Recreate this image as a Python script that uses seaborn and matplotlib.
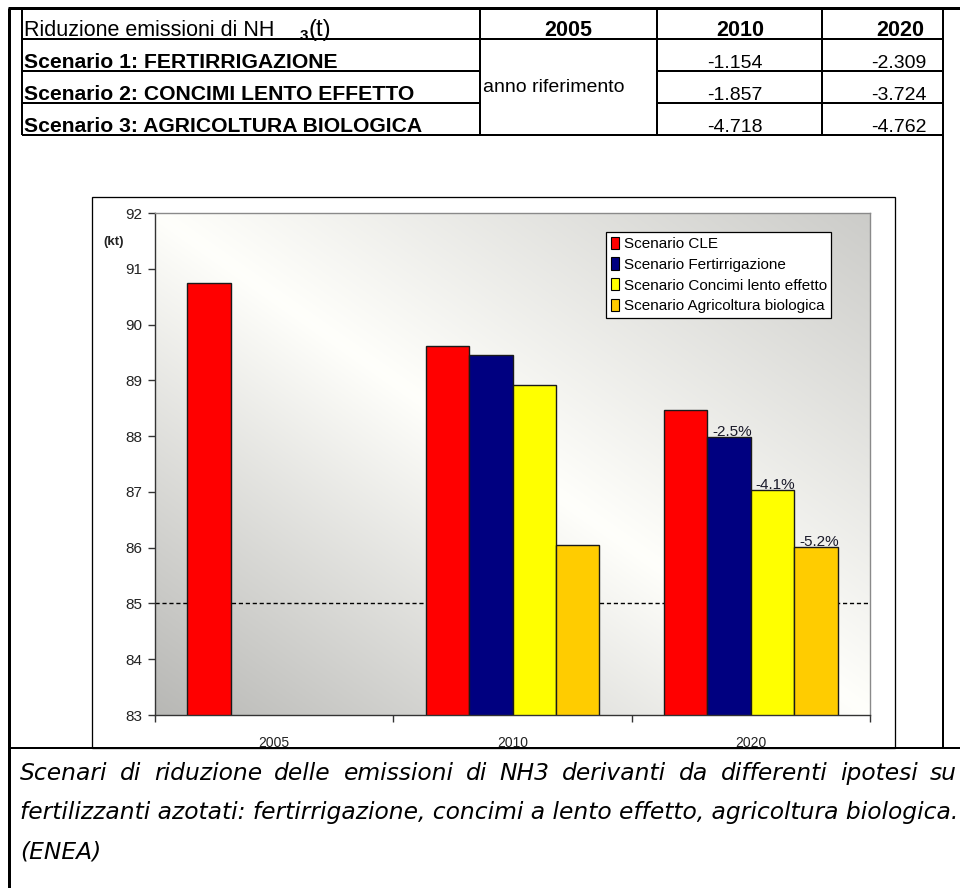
import numpy as np
import pandas as pd
import matplotlib
matplotlib.use("Agg")
import matplotlib.pyplot as plt
import seaborn as sns
from matplotlib.lines import Line2D
from matplotlib.patches import Rectangle, Patch

# ---- data -------------------------------------------------------------
years = ["2005", "2010", "2020"]
scenarios = [
    "Scenario CLE",
    "Scenario Fertirrigazione",
    "Scenario Concimi lento effetto",
    "Scenario Agricoltura biologica",
]
cle = [90.75, 89.61, 88.46]
fertirrigazione = [None, 89.46, 87.99]
concimi_lento = [None, 88.92, 87.03]
agricoltura_bio = [None, 86.05, 86.02]
bar_colors = ["#ff0000", "#000080", "#ffff00", "#ffcc00"]
labels_2020 = ["-2.5%", "-4.1%", "-5.2%"]
threshold = 85

table_title = "Riduzione emissioni di NH"
table_years = ["2005", "2010", "2020"]
table_rows = [
    "Scenario 1: FERTIRRIGAZIONE",
    "Scenario 2: CONCIMI LENTO EFFETTO",
    "Scenario 3: AGRICOLTURA BIOLOGICA",
]
reduction_2010 = ["-1.154", "-1.857", "-4.718"]
reduction_2020 = ["-2.309", "-3.724", "-4.762"]
reference_note = "anno riferimento"
caption_lines = [
    "Scenari di riduzione delle emissioni di NH3 derivanti da differenti ipotesi su",
    "fertilizzanti azotati: fertirrigazione, concimi a lento effetto, agricoltura biologica.",
    "(ENEA)",
]

# ---- long table for seaborn --------------------------------------------
records = []
for name, vals in zip(scenarios, [cle, fertirrigazione, concimi_lento, agricoltura_bio]):
    for yr, v in zip(years, vals):
        if v is not None:
            records.append({"anno": yr, "scenario": name, "kt": v})
df = pd.DataFrame(records)

# ---- figure -------------------------------------------------------------
W, H = 960, 888
fig = plt.figure(figsize=(W / 100, H / 100), dpi=100)
fig.patch.set_facecolor("white")
renderer = fig.canvas.get_renderer()

def fx(x):
    return x / W

def fy(y):
    return 1 - y / H

def pt(px):
    return px * 0.72

def line(x0, y0, x1, y1, px=2.0):
    fig.add_artist(Line2D([fx(x0), fx(x1)], [fy(y0), fy(y1)], color="black",
                          lw=pt(px), transform=fig.transFigure, solid_capstyle="butt"))

# outer cell borders
line(8, 8, 960, 8, 3)
line(9, 8, 9, 888, 3)
line(943, 8, 943, 748, 2)
line(9, 748, 960, 748, 2)
# nested data table
line(22, 8, 22, 135, 2)
line(22, 39, 943, 39, 2)
line(22, 71, 480, 71, 2)
line(657, 71, 943, 71, 2)
line(22, 103, 480, 103, 2)
line(657, 103, 943, 103, 2)
line(22, 135, 943, 135, 2)
for xv in (480, 657, 822):
    line(xv, 8, xv, 135, 2)

tfont = "Liberation Sans"
fig.text(fx(24), fy(36), table_title, fontsize=15.5, family=tfont, va="baseline", ha="left")
fig.text(fx(300), fy(40), "3", fontsize=11, family=tfont, fontweight="bold", va="baseline", ha="left")
fig.text(fx(309), fy(36), "(t)", fontsize=17, family=tfont, va="baseline", ha="left")
col_centers = [568, 740, 900]
for cx, yr in zip(col_centers, table_years):
    fig.text(fx(cx), fy(36), yr, fontsize=15.5, family=tfont, fontweight="bold",
             va="baseline", ha="center")
row_base = [68, 100, 132]
for yb, lbl, v10, v20 in zip(row_base, table_rows, reduction_2010, reduction_2020):
    fig.text(fx(24), fy(yb), lbl, fontsize=15.2, family=tfont, fontweight="bold",
             va="baseline", ha="left")
    fig.text(fx(735), fy(yb), v10, fontsize=14, family=tfont, va="baseline", ha="center")
    fig.text(fx(899), fy(yb), v20, fontsize=14, family=tfont, va="baseline", ha="center")
fig.text(fx(483), fy(88), reference_note, fontsize=14, family=tfont, va="center", ha="left")

# chart frame
fig.add_artist(Rectangle((fx(92), fy(748)), fx(895) - fx(92), fy(197) - fy(748),
                         fill=False, edgecolor="black", lw=pt(1.3),
                         transform=fig.transFigure))

# caption: first line justified across the cell, the rest left-aligned
cap_kw = dict(fontsize=16.8, family="DejaVu Sans", style="italic", va="center", ha="left")
for i, txt in enumerate(caption_lines):
    ycap = fy(773 + 39.5 * i)
    if i == 0:
        words = txt.split(" ")
        widths = []
        for w in words:
            t = fig.text(0, 0, w, **cap_kw)
            widths.append(t.get_window_extent(renderer).width)
            t.remove()
        gap = (957 - 20 - sum(widths)) / (len(words) - 1)
        xpos = 20.0
        for w, wd in zip(words, widths):
            fig.text(fx(xpos), ycap, w, **cap_kw)
            xpos += wd + gap
    else:
        fig.text(fx(20), ycap, txt, **cap_kw)

# ---- chart --------------------------------------------------------------
ax = fig.add_axes([fx(155), fy(715), fx(870) - fx(155), fy(213) - fy(715)])
ax.set_facecolor("none")

# diagonal gradient backdrop: white along the anti-diagonal, grey to the corners
gh, gw = 300, 400
u = np.linspace(0, 1, gw)[None, :]
v = np.linspace(1, 0, gh)[:, None]
d = (u + v) / 2 - 0.5
shade = np.where(d < 0, 1 - (-d * 2) * (1 - 0.72), 1 - (d * 2) * (1 - 0.80))
img = np.dstack([shade, shade, shade * 0.985])
ax.imshow(img, extent=[0, 1, 0, 1], transform=ax.transAxes, aspect="auto",
          zorder=0, interpolation="bilinear")

ax.axhline(threshold, color="black", lw=1.0, ls=(0, (3, 2)), zorder=1)

sns.barplot(data=df, x="anno", y="kt", hue="scenario", order=years,
            hue_order=scenarios, palette=bar_colors, saturation=1, width=0.73,
            edgecolor="#1a1a1a", linewidth=1.0, errorbar=None, ax=ax,
            legend=False, zorder=2)

for cont, lbl in zip(ax.containers[1:], labels_2020):
    bar = max(cont.patches, key=lambda p: p.get_x())
    ax.annotate(lbl, (bar.get_x(), bar.get_height()), xytext=(5, 1),
                textcoords="offset pixels", ha="left", va="baseline",
                fontsize=11, family="Liberation Sans", color="#1a1a2a", zorder=3)

ax.set_ylim(83, 92)
ax.set_xlim(-0.5, 2.5)
ax.set_yticks(range(83, 93))
ax.set_xticks(range(3))
ax.set_xticklabels(years)
ax.set_xticks([-0.5, 0.5, 1.5, 2.5], minor=True)
ax.set_xlabel("")
ax.set_ylabel("")
ax.tick_params(axis="y", length=5, width=1, color="#333", labelsize=11,
               labelcolor="#222", pad=4)
ax.tick_params(axis="x", which="major", length=0, labelsize=10, labelcolor="#222", pad=15)
ax.tick_params(axis="x", which="minor", length=5, width=1, color="#333")
for lab in ax.get_xticklabels() + ax.get_yticklabels():
    lab.set_family("Liberation Sans")
for side in ("left", "bottom"):
    ax.spines[side].set_color("#333")
    ax.spines[side].set_linewidth(1.0)
for side in ("top", "right"):
    ax.spines[side].set_color("#8a8a8a")
    ax.spines[side].set_linewidth(1.0)

fig.text(fx(103), fy(242), "(kt)", fontsize=9.5, family="Liberation Sans",
         fontweight="bold", color="#222", va="center", ha="left")

handles = [Patch(facecolor=c, edgecolor="black", lw=0.8) for c in bar_colors]
leg = ax.legend(handles, scenarios, loc="upper left",
                bbox_to_anchor=(fx(606), fy(232)), bbox_transform=fig.transFigure,
                frameon=True, fancybox=False, framealpha=1, edgecolor="black",
                prop={"family": "Liberation Sans", "size": 11},
                handlelength=0.55, handleheight=0.85, handletextpad=0.3,
                labelspacing=0.42, borderpad=0.3, borderaxespad=0)
leg.get_frame().set_linewidth(0.9)
leg.set_zorder(5)

fig.savefig("out.png", dpi=100, facecolor="white")
